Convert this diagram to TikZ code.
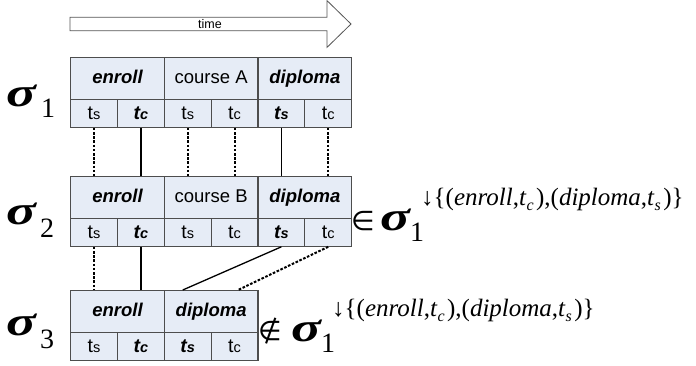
\documentclass[tikz,border=0pt]{standalone}
\usepackage{fontspec}
\usepackage{graphicx}
\setmainfont{Liberation Serif}
\newfontfamily\arialf{Liberation Sans}
\newfontfamily\dejavuf{DejaVu Sans}
\usetikzlibrary{calc}
\definecolor{cellfill}{HTML}{E6ECF6}
\definecolor{cellline}{HTML}{4D4D4D}
\definecolor{arrowline}{HTML}{555555}
\newcommand\tsx[2]{#1{\fontsize{14.5}{15}\selectfont #2}}
\newcommand\sigmafont{\fontsize{41}{41}\selectfont\bfseries\itshape}
\newcommand\bigsig{\scalebox{1.35}[1]{σ}}
\newcommand\idxfont{\fontsize{28}{28}\selectfont}
\newcommand\supfont{\fontsize{25}{25}\selectfont}
\newcommand\subidx[1]{\raisebox{-5pt}{\fontsize{16}{16}\selectfont\itshape #1}}
\newcommand\projexpr{↓\{(\textit{enroll},\textit{t}\subidx{c}\hspace{2.5pt}),(\textit{diploma},\textit{t}\subidx{s}\hspace{2.5pt})\}}
\tikzset{
  topcell/.style={draw=cellline, fill=cellfill, line width=1.3pt, minimum width=93.67pt,
    minimum height=41.5pt, inner sep=0pt, anchor=north west, text height=13.5pt, text depth=4pt,
    font=\arialf\fontsize{18.5}{20}\selectfont},
  botcell/.style={draw=cellline, fill=cellfill, line width=1.3pt, minimum width=46.83pt,
    minimum height=28pt, inner sep=0pt, anchor=north west, text height=14pt, text depth=0.5pt,
    font=\arialf\fontsize{19.5}{20}\selectfont},
  dashline/.style={line width=2pt, dash pattern=on 2.6pt off 1.6pt},
  solidline/.style={line width=1.3pt},
  lbl/.style={anchor=base west, inner sep=0pt},
  bi/.style={font=\arialf\fontsize{18.5}{20}\selectfont\bfseries\itshape},
  bib/.style={font=\arialf\fontsize{19.5}{20}\selectfont\bfseries\itshape}
}
\begin{document}
\begin{tikzpicture}[x=1pt,y=-1pt]
\useasboundingbox (0,0) rectangle (696,365);
% time arrow
\draw[draw=arrowline, fill=white, line width=0.8pt]
  (70,17.3) -- (327,17.3) -- (327,0.6) -- (351,24) -- (327,47.4) -- (327,30.7) -- (70,30.7) -- cycle;
\node[font=\arialf\fontsize{12.5}{13}\selectfont, inner sep=0pt] (time) at (210,24) {time};
% sigma 1
\node[topcell, bi] (s1t1) at (70,57) {enroll};
\node[topcell] (s1t2) at (163.67,57) {course A};
\node[topcell, bi] (s1t3) at (257.33,57) {diploma};
\node[botcell] (s1b1) at (70,98.5) {\tsx{t}{s}};
\node[botcell, bib] (s1b2) at (116.83,98.5) {\tsx{t}{c}};
\node[botcell] (s1b3) at (163.67,98.5) {\tsx{t}{s}};
\node[botcell] (s1b4) at (210.5,98.5) {\tsx{t}{c}};
\node[botcell, bib] (s1b5) at (257.33,98.5) {\tsx{t}{s}};
\node[botcell] (s1b6) at (304.17,98.5) {\tsx{t}{c}};
% sigma 2
\node[topcell, bi] (s2t1) at (70,176) {enroll};
\node[topcell] (s2t2) at (163.67,176) {course B};
\node[topcell, bi] (s2t3) at (257.33,176) {diploma};
\node[botcell] (s2b1) at (70,217.5) {\tsx{t}{s}};
\node[botcell, bib] (s2b2) at (116.83,217.5) {\tsx{t}{c}};
\node[botcell] (s2b3) at (163.67,217.5) {\tsx{t}{s}};
\node[botcell] (s2b4) at (210.5,217.5) {\tsx{t}{c}};
\node[botcell, bib] (s2b5) at (257.33,217.5) {\tsx{t}{s}};
\node[botcell] (s2b6) at (304.17,217.5) {\tsx{t}{c}};
% sigma 3
\node[topcell, bi] (s3t1) at (70,290) {enroll};
\node[topcell, bi] (s3t2) at (163.67,290) {diploma};
\node[botcell] (s3b1) at (70,331.5) {\tsx{t}{s}};
\node[botcell, bib] (s3b2) at (116.83,331.5) {\tsx{t}{c}};
\node[botcell, bib] (s3b3) at (163.67,331.5) {\tsx{t}{s}};
\node[botcell] (s3b4) at (210.5,331.5) {\tsx{t}{c}};
% connectors sigma1 -> sigma2
\draw[dashline] (s1b1.south) -- (s1b1.south |- s2t1.north);
\draw[solidline] (s1b2.south) -- (s1b2.south |- s2t1.north);
\draw[dashline] (s1b3.south) -- (s1b3.south |- s2t2.north);
\draw[dashline] (s1b4.south) -- (s1b4.south |- s2t2.north);
\draw[solidline] (s1b5.south) -- (s1b5.south |- s2t3.north);
\draw[dashline] (s1b6.south) -- (s1b6.south |- s2t3.north);
% connectors sigma2 -> sigma3
\draw[dashline] (s2b1.south) -- (s2b1.south |- s3t1.north);
\draw[solidline] (s2b2.south) -- (s2b2.south |- s3t1.north);
\draw[solidline] (s2b5.south) -- ($(s3b3.north |- s3t2.north)+(-5,0)$);
\draw[dashline] (s2b6.south) -- ($(s3b4.north |- s3t2.north)+(3.5,0)$);
% left labels
\node[lbl, font=\sigmafont] (l1) at (6,106) {\bigsig};
\node[lbl, font=\idxfont] (l1n) at (41,117) {1};
\node[lbl, font=\sigmafont] (l2) at (6,224) {\bigsig};
\node[lbl, font=\idxfont] (l2n) at (40,237) {2};
\node[lbl, font=\sigmafont] (l3) at (6,335) {\bigsig};
\node[lbl, font=\idxfont] (l3n) at (40,348) {3};
% formulas
\node[lbl, font=\dejavuf\fontsize{27}{27}\selectfont] (e1) at (351,230) {∈};
\node[lbl, font=\sigmafont] (f1s) at (380,230) {\bigsig};
\node[lbl, font=\idxfont] (f1n) at (410,241) {1};
\node[lbl, font=\supfont] (f1p) at (421,205) {\projexpr};
\node[lbl, font=\dejavuf\fontsize{27}{27}\selectfont] (e2) at (258,340) {∉};
\node[lbl, font=\sigmafont] (f2s) at (291,341) {\bigsig};
\node[lbl, font=\idxfont] (f2n) at (321,352) {1};
\node[lbl, font=\supfont] (f2p) at (332,316) {\projexpr};
\end{tikzpicture}
\end{document}
